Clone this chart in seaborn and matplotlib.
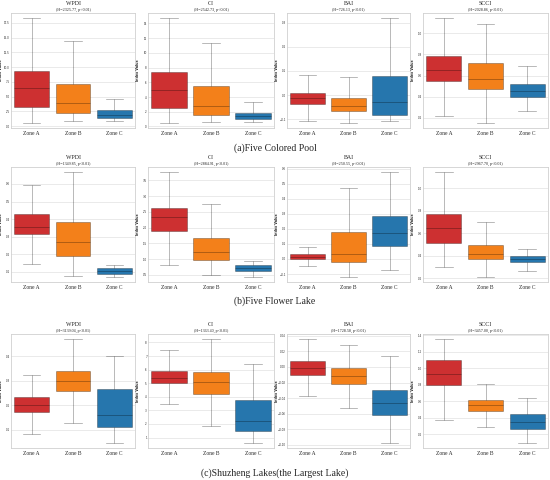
import numpy as np
import pandas as pd
import matplotlib
matplotlib.use("Agg")
import matplotlib.pyplot as plt
import seaborn as sns
from matplotlib.ticker import FixedLocator

# categories / labels
zones = ["Zone A", "Zone B", "Zone C"]
indices = ["WPDI", "CI", "BAI", "SCCI"]
lake_captions = ["(a)Five Colored Pool", "(b)Five Flower Lake",
                 "(c)Shuzheng Lakes(the Largest Lake)"]
zone_colors = ["#d62728", "#ff7f0e", "#1f77b4"]

# Kruskal-Wallis H per index
h_pool = [2325.77, 2542.73, 726.13, 2028.86]
h_flower = [1349.85, 2884.91, 250.55, 2967.70]
h_shuzheng = [3139.04, 1363.40, 1728.58, 3457.00]

# five-number summaries per zone: [min, q1, median, q3, max]
pool_wpdi = [[0.57, 3.2, 6.5, 9.3, 18.3], [0.85, 2.3, 4.0, 7.2, 14.5], [0.8, 1.3, 1.9, 2.7, 4.6]]
pool_ci = [[0.5, 2.5, 4.9, 7.4, 14.7], [0.6, 1.55, 2.8, 5.45, 11.4], [0.55, 0.95, 1.4, 1.8, 3.3]]
pool_bai = [[-0.106, -0.037, -0.011, 0.010, 0.082], [-0.115, -0.068, -0.044, -0.011, 0.075],
            [-0.106, -0.081, -0.031, 0.078, 0.318]]
pool_scci = [[0.219, 0.552, 0.651, 0.784, 1.143], [0.152, 0.476, 0.571, 0.721, 1.089],
             [0.263, 0.394, 0.451, 0.517, 0.692]]

flower_wpdi = [[0.146, 0.315, 0.355, 0.428, 0.596], [0.073, 0.190, 0.271, 0.382, 0.667],
               [0.071, 0.089, 0.104, 0.119, 0.140]]
flower_ci = [[0.809, 1.883, 2.330, 2.617, 3.755], [0.479, 0.968, 1.213, 1.681, 2.755],
             [0.436, 0.617, 0.723, 0.809, 0.926]]
flower_bai = [[-0.047, 0.0, 0.016, 0.031, 0.078], [-0.118, -0.018, 0.031, 0.178, 0.469],
              [-0.076, 0.087, 0.173, 0.287, 0.576]]
flower_scci = [[0.301, 0.516, 0.642, 0.770, 1.143], [0.212, 0.370, 0.412, 0.499, 0.699],
               [0.260, 0.340, 0.370, 0.397, 0.463]]

shuzheng_wpdi = [[0.084, 0.173, 0.200, 0.232, 0.324], [0.128, 0.257, 0.300, 0.339, 0.470],
                 [0.047, 0.112, 0.162, 0.266, 0.400]]
shuzheng_ci = [[3.49, 4.98, 5.41, 5.93, 7.41], [1.85, 4.24, 5.10, 5.83, 8.24],
               [0.61, 1.46, 2.20, 3.73, 6.41]]
shuzheng_bai = [[-0.0374, -0.0102, -0.0009, 0.0077, 0.0357], [-0.0523, -0.0213, -0.0111, -0.0017, 0.0281],
                [-0.0974, -0.0617, -0.0460, -0.0298, 0.0136]]
shuzheng_scci = [[0.369, 0.800, 0.936, 1.101, 1.355], [0.285, 0.486, 0.550, 0.619, 0.816],
                 [0.095, 0.268, 0.345, 0.445, 0.639]]

# y tick values per panel
pool_yticks = [[0.0, 2.5, 5.0, 7.5, 10.0, 12.5, 15.0, 17.5], [0, 2, 4, 6, 8, 10, 12, 14],
               [-0.1, 0.0, 0.1, 0.2, 0.3], [0.2, 0.4, 0.6, 0.8, 1.0]]
flower_yticks = [[0.1, 0.2, 0.3, 0.4, 0.5, 0.6], [0.5, 1.0, 1.5, 2.0, 2.5, 3.0, 3.5],
                 [-0.1, 0.0, 0.1, 0.2, 0.3, 0.4, 0.5, 0.6], [0.2, 0.4, 0.6, 0.8, 1.0]]
shuzheng_yticks = [[0.1, 0.2, 0.3, 0.4], [1, 2, 3, 4, 5, 6, 7, 8],
                   [-0.10, -0.08, -0.06, -0.04, -0.02, 0.00, 0.02, 0.04],
                   [0.2, 0.4, 0.6, 0.8, 1.0, 1.2, 1.4]]

lakes = [
    ([pool_wpdi, pool_ci, pool_bai, pool_scci], h_pool, pool_yticks),
    ([flower_wpdi, flower_ci, flower_bai, flower_scci], h_flower, flower_yticks),
    ([shuzheng_wpdi, shuzheng_ci, shuzheng_bai, shuzheng_scci], h_shuzheng, shuzheng_yticks),
]

sns.set_theme(style="whitegrid")
plt.rcParams.update({
    "axes.edgecolor": "#d0d0d0",
    "axes.linewidth": 0.6,
    "grid.color": "#e6e6e6",
    "grid.linewidth": 0.6,
})
SERIF = "Liberation Serif"

W, H = 550, 480
fig = plt.figure(figsize=(W / 100, H / 100), dpi=100)

col_left = [11, 148, 287, 423]
col_right = [135, 274, 410, 548]
row_top = [13, 167, 334]
row_bottom = [128, 282, 448]
caption_y = [148, 301, 473]

for i, (panels, hvals, yticks) in enumerate(lakes):
    for j, name in enumerate(indices):
        width_px = col_right[j] - col_left[j]
        rect = [col_left[j] / W, 1 - row_bottom[i] / H,
                width_px / W, (row_bottom[i] - row_top[i]) / H]
        ax = fig.add_axes(rect)
        df = pd.DataFrame({
            "zone": np.repeat(zones, 5),
            "value": np.concatenate(panels[j]),
        })
        sns.boxplot(data=df, x="zone", y="value", hue="zone", palette=zone_colors,
                    saturation=0.9, width=0.84, whis=(0, 100), linecolor="black",
                    linewidth=0.7, legend=False, ax=ax)
        for line in ax.lines:
            line.set_alpha(0.28)
        for p in ax.patches:
            p.set_edgecolor((0, 0, 0, 0.28))

        ax.yaxis.set_major_locator(FixedLocator(yticks[j]))
        ax.set_xlabel("")
        ax.set_ylabel("Index Value", fontsize=2.3, fontweight="bold")
        ax.yaxis.set_label_coords(-7.6 / width_px, 0.5)
        ax.tick_params(axis="both", length=0)
        ax.tick_params(axis="y", labelsize=1.9, pad=0.8)
        ax.tick_params(axis="x", labelsize=4, pad=2)
        for t in ax.get_xticklabels():
            t.set_fontfamily(SERIF)

        ax.annotate(name, xy=(0.5, 1), xycoords="axes fraction", xytext=(0, 6.5),
                    textcoords="offset points", ha="center", va="center",
                    fontsize=4.2, family=SERIF)
        ax.annotate(f"(H={hvals[j]:.2f}, p<0.01)", xy=(0.5, 1), xycoords="axes fraction",
                    xytext=(0, 2.2), textcoords="offset points", ha="center", va="center",
                    fontsize=3, family=SERIF)

    fig.text(0.5, 1 - caption_y[i] / H, lake_captions[i], ha="center", va="center",
             fontsize=7, family=SERIF)

fig.savefig("out.png", dpi=100)
